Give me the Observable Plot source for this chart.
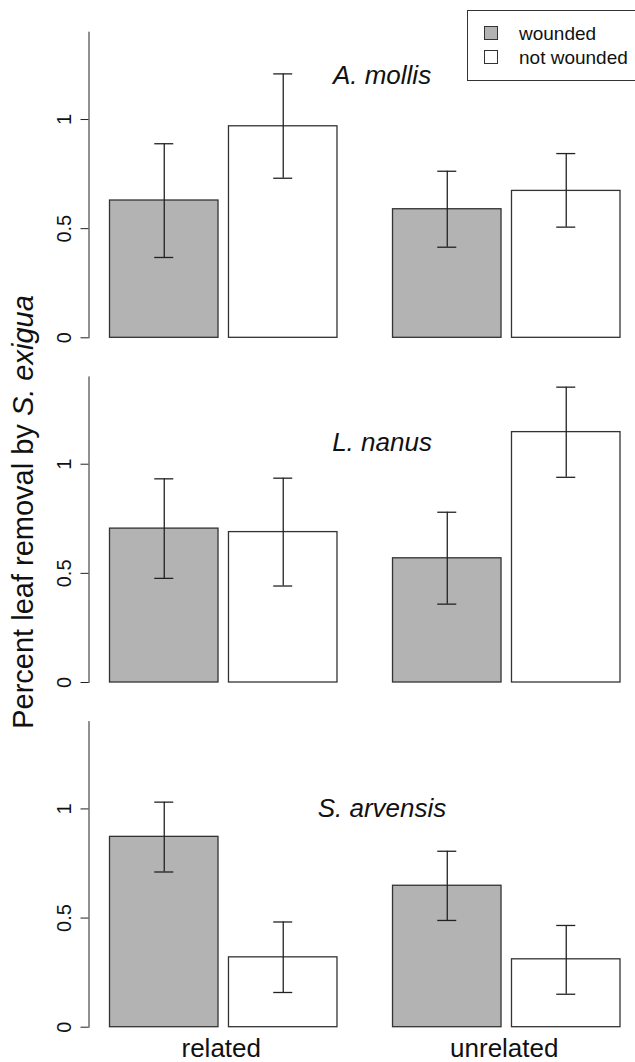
<!DOCTYPE html>
<html><head><meta charset="utf-8">
<script src="https://cdn.jsdelivr.net/npm/d3@7"></script>
<script src="https://cdn.jsdelivr.net/npm/@observablehq/plot@0.6"></script>
<style>html,body{margin:0;padding:0;background:#fff;overflow:hidden}#chart{position:relative;width:635px;height:1062px}</style>
</head><body><div id="chart"></div>
<script>
const species = ["A. mollis", "L. nanus", "S. arvensis"];
const groups = ["related", "unrelated"];
const treatments = ["wounded", "not wounded"];
// order: species -> group -> treatment
const means = [0.629, 0.969, 0.589, 0.673,  0.705, 0.689, 0.569, 1.147,  0.872, 0.320, 0.648, 0.311];
const lows  = [0.368, 0.731, 0.415, 0.507,  0.477, 0.442, 0.359, 0.940,  0.711, 0.159, 0.489, 0.151];
const highs = [0.889, 1.209, 0.763, 0.844,  0.933, 0.936, 0.780, 1.353,  1.031, 0.482, 0.806, 0.466];
const speciesLabelY = [1.2, 1.1, 1.0];
const yTicks = [0, 0.5, 1];
const fills = ["#b3b3b3", "#ffffff"];
const yLabelPlain = "Percent leaf removal by ";
const yLabelItalic = "S. exigua";

const rows = [];
let k = 0;
for (const s of species) for (const g of groups) for (const t of treatments) {
  rows.push({species: s, group: g, treatment: t, mean: means[k], lo: lows[k], hi: highs[k]});
  k++;
}
const labels = species.map((s, i) => ({species: s, group: groups[1], y: speciesLabelY[i]}));

const font = "'Liberation Sans', Arial, Helvetica, sans-serif";
const ink = "#222";
const common = {fx: "group", fy: "species", x: "treatment"};

const plot = Plot.plot({
  width: 635, height: 1062,
  marginTop: 31.7, marginBottom: 35.3, marginLeft: 88.5, marginRight: 15,
  style: {fontFamily: font, color: "#111", background: "#fff"},
  fx: {domain: groups, paddingInner: 0.122, paddingOuter: 0, round: false, axis: null},
  fy: {domain: species, paddingInner: 0.1134, paddingOuter: 0, round: false, axis: null},
  x: {domain: treatments, insetLeft: 21, paddingInner: 0.088, paddingOuter: 0, round: false, axis: null},
  y: {domain: [0, 1.4], axis: null},
  color: {domain: treatments, range: fills},
  marks: [
    Plot.frame({anchor: "left", facetAnchor: "left", stroke: ink}),
    Plot.axisY({ticks: yTicks, tickFormat: d => String(d), tickSize: 8, tickPadding: 10, tickRotate: -90, fontSize: 20, label: null, anchor: "left", stroke: ink}),
    Plot.axisFx({anchor: "bottom", tickSize: 0, tickPadding: 11, fontSize: 26, label: null, dx: 8}),
    Plot.barY(rows, {...common, y: "mean", fill: "treatment", stroke: "#333", strokeWidth: 1.3}),
    Plot.ruleX(rows, {...common, y1: "lo", y2: "hi", stroke: ink, strokeWidth: 1.3}),
    Plot.tickY(rows, {...common, y: "lo", insetLeft: 44.75, insetRight: 44.75, stroke: ink, strokeWidth: 1.3}),
    Plot.tickY(rows, {...common, y: "hi", insetLeft: 44.75, insetRight: 44.75, stroke: ink, strokeWidth: 1.3}),
    Plot.text(labels, {fx: "group", fy: "species", y: "y", text: "species", frameAnchor: "left", dx: 10, textAnchor: "middle", lineAnchor: "middle", fontSize: 26, fontStyle: "italic", fill: "#111"})
  ]
});

const svg = d3.select(plot);
// y-axis title
const yt = svg.append("text")
  .attr("transform", "translate(33,512) rotate(-90)")
  .attr("text-anchor", "middle")
  .attr("fill", "#111")
  .style("font-family", font)
  .style("font-size", "29px");
yt.append("tspan").text(yLabelPlain);
yt.append("tspan").style("font-style", "italic").text(yLabelItalic);

// legend
const lg = svg.append("g").style("font-family", font).attr("text-anchor", "start");
lg.append("rect").attr("x", 467.5).attr("y", 10.5).attr("width", 200).attr("height", 70)
  .attr("fill", "#fff").attr("stroke", "#333");
treatments.forEach((t, i) => {
  const cy = 33 + i * 24;
  lg.append("rect").attr("x", 484.5).attr("y", cy - 6.5).attr("width", 13).attr("height", 13)
    .attr("fill", fills[i]).attr("stroke", "#333");
  lg.append("text").attr("x", 519).attr("y", cy).attr("dy", "0.35em")
    .attr("text-anchor", "start")
    .attr("fill", "#111").style("font-size", "19px").text(t);
});

document.getElementById("chart").appendChild(plot);
</script>
</body></html>
